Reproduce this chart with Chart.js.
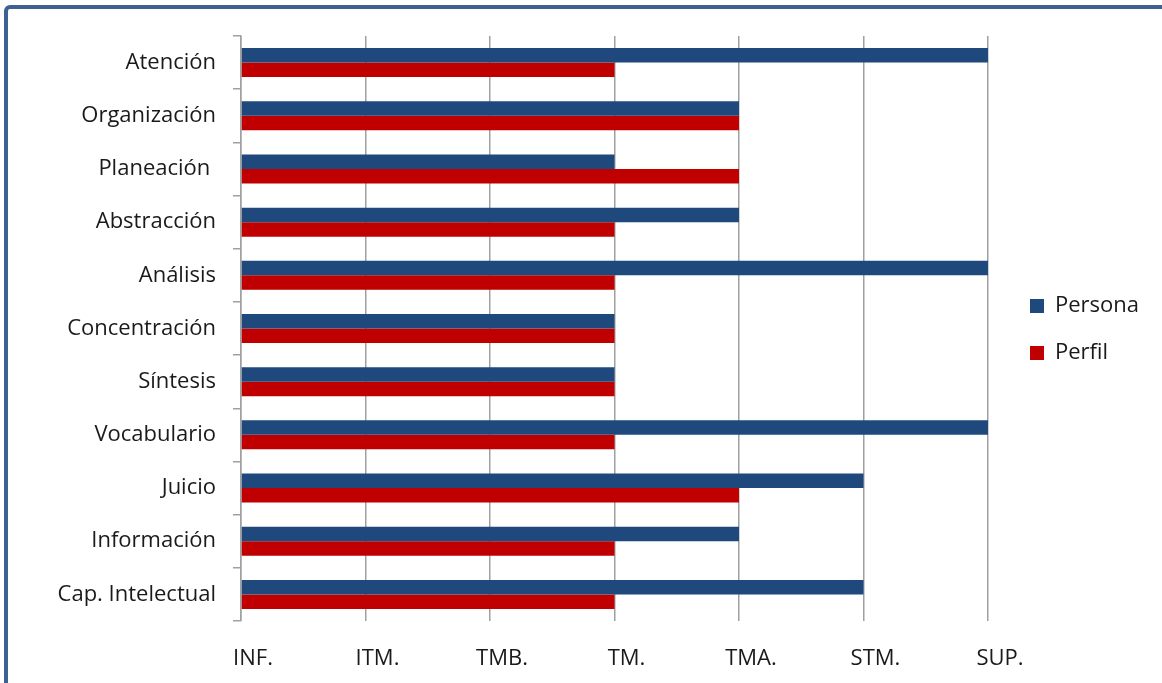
<!DOCTYPE html>
<html>
<head>
<meta charset="utf-8">
<script src="https://cdn.jsdelivr.net/npm/chart.js@4"></script>
<style>
  html, body { margin: 0; padding: 0; background: #fff; overflow: hidden; }
  #wrap { position: relative; width: 1162px; height: 683px; }
  #frame {
    position: absolute; left: 4px; top: 5px; width: 1200px; height: 760px;
    border: 4px solid #3d6292; border-radius: 6px; box-sizing: border-box;
  }
  #myChart { position: absolute; left: 0; top: 0; }
</style>
</head>
<body>
<div id="wrap">
  <div id="frame"></div>
  <canvas id="myChart" width="1162" height="683"></canvas>
</div>
<script>
const categories = ["Atención", "Organización", "Planeación ", "Abstracción", "Análisis",
    "Concentración", "Síntesis", "Vocabulario", "Juicio", "Información", "Cap. Intelectual"];
const persona = [6, 4, 3, 4, 6, 3, 3, 6, 5, 4, 5];
const perfil = [3, 4, 4, 3, 3, 3, 3, 3, 4, 3, 3];
const levels = ["INF.", "ITM.", "TMB.", "TM.", "TMA.", "STM.", "SUP."];

Chart.defaults.font.family = "'Open Sans', sans-serif";
Chart.defaults.font.size = 22;
Chart.defaults.color = "#1a1a1a";

// move the legend next to the middle of the plot, like the original
const legendNudge = {
    id: "legendNudge",
    afterLayout(chart) {
        const lg = chart.legend;
        lg.left += 17;
        lg.right += 17;
        lg.top -= 30;
        lg.bottom -= 30;
    },
};

const ctx = document.getElementById("myChart");

new Chart(ctx, {
    type: "bar",
    data: {
        labels: categories,
        datasets: [{
            label: "Persona",
            data: persona,
            backgroundColor: "#1f497d",
        }, {
            label: "Perfil",
            data: perfil,
            backgroundColor: "#c00000",
        }, ],
    },
    plugins: [legendNudge],
    options: {
        indexAxis: "y",
        responsive: false,
        animation: false,
        devicePixelRatio: 1,
        categoryPercentage: 0.545,
        barPercentage: 1,
        layout: {
            padding: { top: 36, right: 30, bottom: 0, left: 0 },
        },
        plugins: {
            legend: {
                position: "right",
                labels: {
                    boxWidth: 14,
                    boxHeight: 14,
                    padding: 25,
                },
            },
            tooltip: { enabled: false },
        },
        scales: {
            x: {
                min: 0,
                max: 6,
                afterFit(scale) { scale.height = 62; },
                grid: {
                    color: "#a0a0a0",
                    lineWidth: 1.5,
                    drawTicks: false,
                },
                border: { display: false },
                ticks: {
                    stepSize: 1,
                    padding: 25,
                    labelOffset: 12,
                    maxRotation: 0,
                    callback: (v) => levels[v],
                },
            },
            y: {
                afterFit(scale) { scale.width = 241; },
                grid: {
                    drawOnChartArea: false,
                    color: "#a0a0a0",
                    lineWidth: 1.5,
                    tickLength: 8,
                },
                border: { display: true, color: "#a0a0a0", width: 1.5 },
                ticks: {
                    padding: 17,
                },
            },
        },
    },
});
</script>
</body>
</html>
